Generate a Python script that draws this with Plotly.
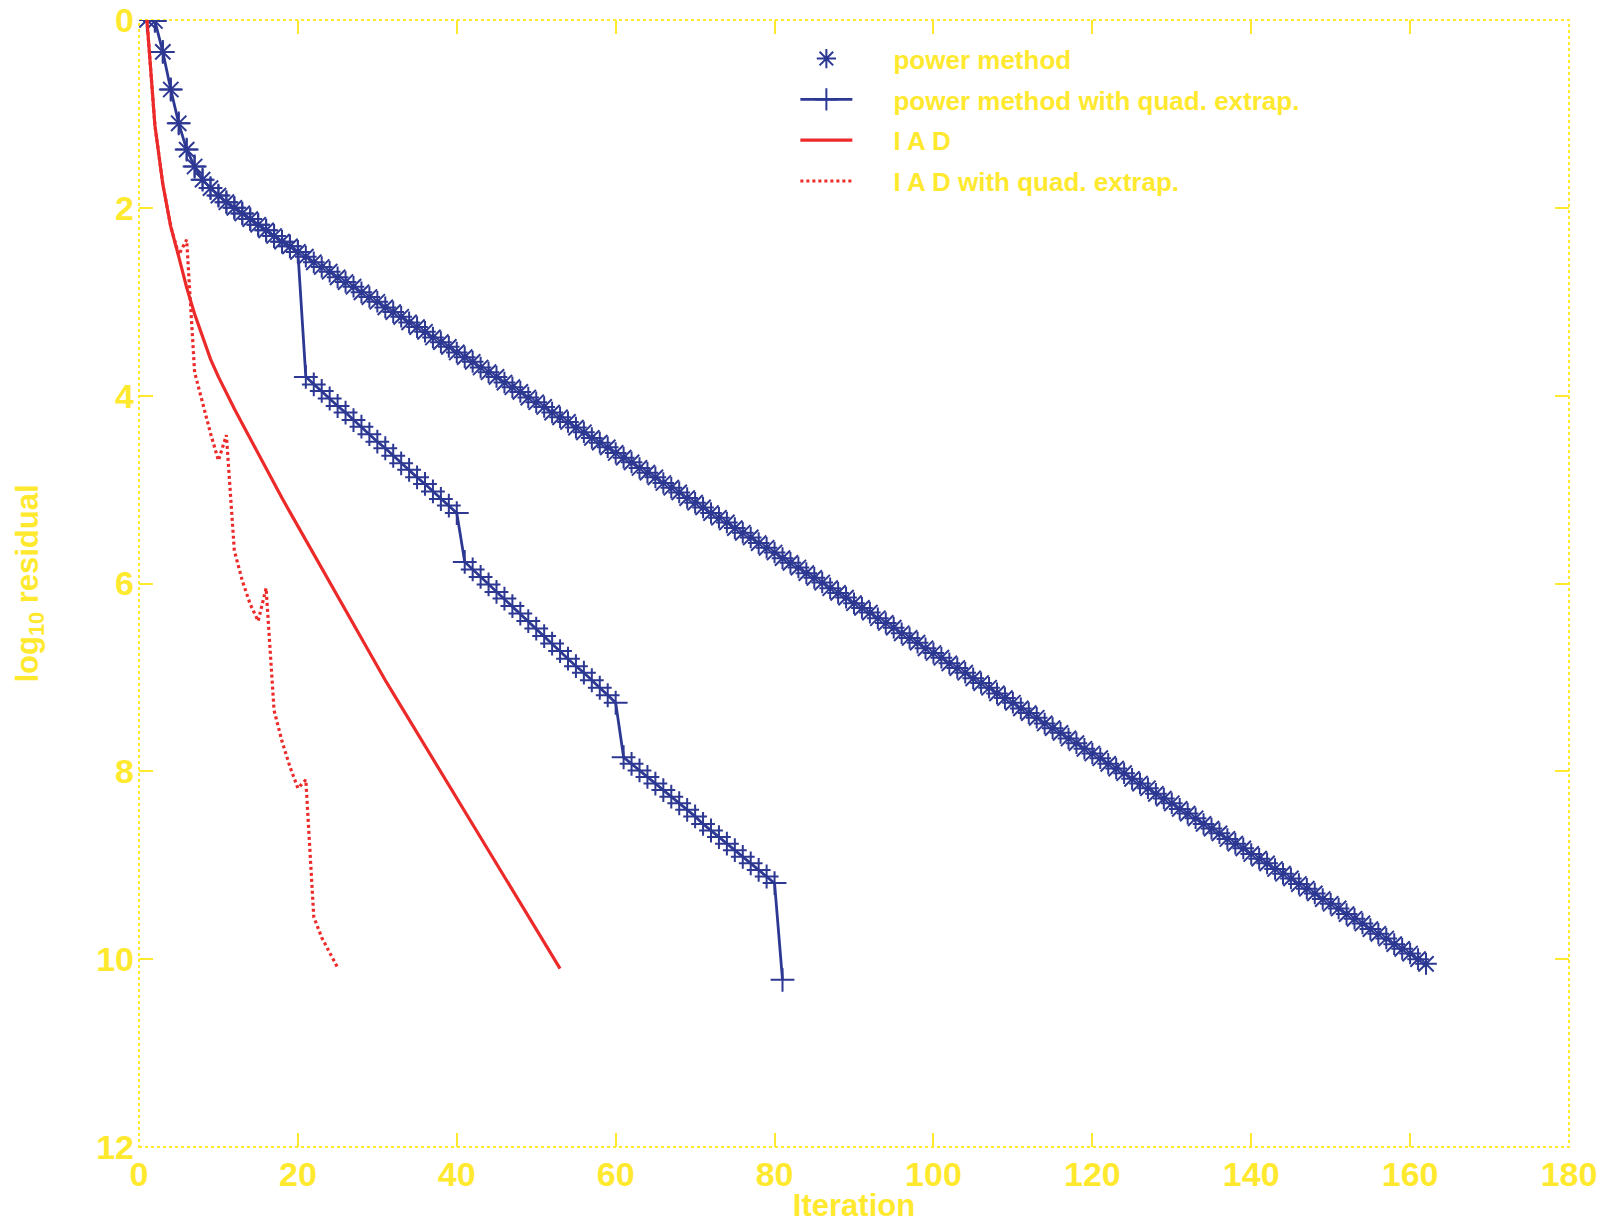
import plotly.graph_objects as go

# ---------------- data ----------------
power_method = [
    0.00, 0.01, 0.34, 0.74, 1.10, 1.38, 1.56, 1.70, 1.79, 1.87,
    1.94, 2.00, 2.06, 2.12, 2.18, 2.24, 2.30, 2.36, 2.41, 2.47,
    2.52, 2.58, 2.63, 2.68, 2.74, 2.79, 2.84, 2.90, 2.95, 3.00,
    3.06, 3.11, 3.16, 3.22, 3.27, 3.32, 3.38, 3.43, 3.48, 3.54,
    3.59, 3.64, 3.70, 3.75, 3.80, 3.86, 3.91, 3.96, 4.02, 4.07,
    4.12, 4.18, 4.23, 4.28, 4.34, 4.39, 4.45, 4.50, 4.55, 4.61,
    4.66, 4.71, 4.77, 4.82, 4.87, 4.93, 4.98, 5.03, 5.09, 5.14,
    5.19, 5.25, 5.30, 5.35, 5.41, 5.46, 5.51, 5.57, 5.62, 5.67,
    5.73, 5.78, 5.83, 5.89, 5.94, 5.99, 6.05, 6.10, 6.15, 6.21,
    6.26, 6.31, 6.37, 6.42, 6.47, 6.53, 6.58, 6.63, 6.69, 6.74,
    6.79, 6.85, 6.90, 6.95, 7.01, 7.06, 7.11, 7.17, 7.22, 7.27,
    7.33, 7.38, 7.43, 7.49, 7.54, 7.59, 7.65, 7.70, 7.76, 7.81,
    7.86, 7.92, 7.97, 8.02, 8.08, 8.13, 8.18, 8.24, 8.29, 8.34,
    8.40, 8.45, 8.50, 8.56, 8.61, 8.66, 8.72, 8.77, 8.82, 8.88,
    8.93, 8.98, 9.04, 9.09, 9.14, 9.20, 9.25, 9.30, 9.36, 9.41,
    9.46, 9.52, 9.57, 9.62, 9.68, 9.73, 9.78, 9.84, 9.89, 9.94,
    10.00, 10.05,
]

power_quad = [
    0.00, 0.01, 0.34, 0.74, 1.10, 1.38, 1.56, 1.70, 1.79, 1.87,
    1.94, 2.00, 2.06, 2.12, 2.18, 2.24, 2.30, 2.36, 2.41, 2.47,
    3.80, 3.88, 3.95, 4.03, 4.11, 4.18, 4.26, 4.33, 4.41, 4.49,
    4.56, 4.64, 4.72, 4.79, 4.87, 4.94, 5.02, 5.10, 5.17, 5.25,
    5.77, 5.85, 5.93, 6.01, 6.09, 6.16, 6.24, 6.32, 6.40, 6.48,
    6.56, 6.64, 6.72, 6.80, 6.88, 6.95, 7.03, 7.11, 7.19, 7.27,
    7.85, 7.92, 7.99, 8.06, 8.13, 8.20, 8.27, 8.34, 8.41, 8.48,
    8.56, 8.63, 8.70, 8.77, 8.84, 8.91, 8.98, 9.05, 9.12, 9.19,
    10.22,
]

iad = [
    0.00, 1.12, 1.75, 2.20, 2.52, 2.85, 3.13, 3.38, 3.61, 3.80,
    3.98, 4.14, 4.30, 4.46, 4.62, 4.78, 4.94, 5.09, 5.24, 5.39,
    5.54, 5.69, 5.84, 5.99, 6.14, 6.29, 6.44, 6.59, 6.74, 6.89,
    7.03, 7.17, 7.31, 7.45, 7.59, 7.73, 7.87, 8.01, 8.15, 8.29,
    8.43, 8.56, 8.70, 8.84, 8.98, 9.12, 9.26, 9.40, 9.54, 9.68,
    9.82, 9.96, 10.10,
]

iad_quad = [
    0.00, 1.12, 1.75, 2.20, 2.50, 2.34, 3.75, 4.08, 4.40, 4.69,
    4.42, 5.65, 5.97, 6.22, 6.40, 6.05, 7.35, 7.68, 7.95, 8.18,
    8.09, 9.55, 9.77, 9.93, 10.09,
]

series_names = [
    "power method",
    "power method with quad. extrap.",
    "I A D",
    "I A D with quad. extrap.",
]
x_ticks = [0, 20, 40, 60, 80, 100, 120, 140, 160, 180]
y_ticks = [0, 2, 4, 6, 8, 10, 12]

# ---------------- style ----------------
YELLOW = "#ffe92e"
BLUE = "#2d3893"
RED = "#ec2a2a"
FONT = "Liberation Sans, Arial, Helvetica, sans-serif"
PAD = "\u00a0" * 5


def iters(values):
    return list(range(1, len(values) + 1))


fig = go.Figure()

fig.add_trace(go.Scatter(
    x=iters(power_method), y=power_method, mode="markers",
    name=PAD + series_names[0], legendgroup="a",
    marker=dict(symbol="asterisk-open", size=18, color=BLUE,
                line=dict(color=BLUE, width=2)),
))
fig.add_trace(go.Scatter(
    x=iters(power_quad), y=power_quad, mode="lines+markers",
    name=PAD + series_names[1], legendgroup="b",
    line=dict(color=BLUE, width=2.8),
    marker=dict(symbol="cross-thin-open", size=17, color=BLUE,
                line=dict(color=BLUE, width=2)),
))
fig.add_trace(go.Scatter(
    x=iters(iad), y=iad, mode="lines",
    name=PAD + series_names[2], legendgroup="c",
    line=dict(color=RED, width=3.2),
))
fig.add_trace(go.Scatter(
    x=iters(iad_quad), y=iad_quad, mode="lines",
    name=PAD + series_names[3], legendgroup="d",
    line=dict(color=RED, width=3.2, dash="3px,3px"),
))

axis_common = dict(
    showgrid=False, zeroline=False, showline=False,
    ticks="inside", ticklen=14, tickwidth=2, tickcolor=YELLOW,
    mirror="ticks", automargin=False, ticklabeloverflow="allow",
    tickfont=dict(family=FONT, size=34, color=YELLOW, weight="bold"),
)

# page body has an 8px margin, so the figure is 16px smaller than the window
fig.update_layout(
    width=1592, height=1215,
    margin=dict(l=131, r=31, t=12, b=76),
    paper_bgcolor="white", plot_bgcolor="white",
    showlegend=True,
    legend=dict(
        x=0.459, y=0.9865, xanchor="left", yanchor="top",
        bgcolor="rgba(0,0,0,0)", borderwidth=0,
        itemwidth=52, traceorder="grouped", tracegroupgap=4,
        font=dict(family=FONT, size=26, color=YELLOW, weight="bold"),
    ),
    xaxis=dict(
        range=[0, 180], tickvals=x_ticks, ticktext=[str(v) for v in x_ticks],
        ticklabelstandoff=4,
        title=dict(text="Iteration", standoff=15,
                   font=dict(family=FONT, size=31, color=YELLOW, weight="bold")),
        **axis_common,
    ),
    yaxis=dict(
        range=[12, 0], tickvals=y_ticks, ticktext=[str(v) for v in y_ticks],
        ticklabelstandoff=4,
        title=dict(text="log<sub>10</sub> residual", standoff=48,
                   font=dict(family=FONT, size=31, color=YELLOW, weight="bold")),
        **axis_common,
    ),
)

# dotted frame around the plot area
fig.add_shape(type="rect", xref="x domain", yref="y domain",
              x0=0, x1=1, y0=0, y1=1,
              line=dict(color=YELLOW, width=2, dash="dot"), layer="below")

fig.write_html("out.html")
